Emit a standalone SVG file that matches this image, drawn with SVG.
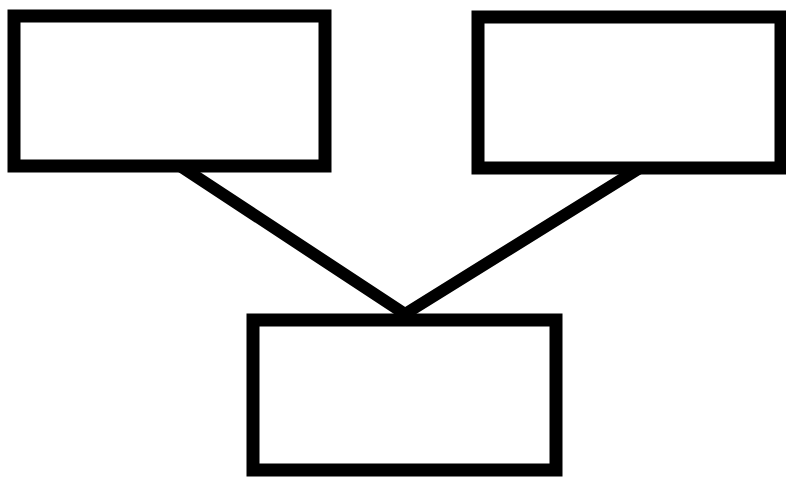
<svg xmlns="http://www.w3.org/2000/svg" width="786" height="478" viewBox="0 0 786 478">
<style>
.box{fill:#fff;stroke:#000;stroke-width:13;stroke-linejoin:miter}
.conn{stroke:#000;stroke-width:12;stroke-linecap:round;fill:none}
</style>
<rect width="786" height="478" fill="#fff"/>
<g id="connectors">
<line class="conn" x1="180" y1="166" x2="405" y2="314"/>
<line class="conn" x1="640" y1="168" x2="405" y2="314"/>
</g>
<g id="node-top-left"><rect class="box" x="14" y="16" width="311" height="150"/></g>
<g id="node-top-right"><rect class="box" x="478" y="17" width="303" height="151"/></g>
<g id="node-bottom"><rect class="box" x="253" y="320" width="303" height="150"/></g>
</svg>
